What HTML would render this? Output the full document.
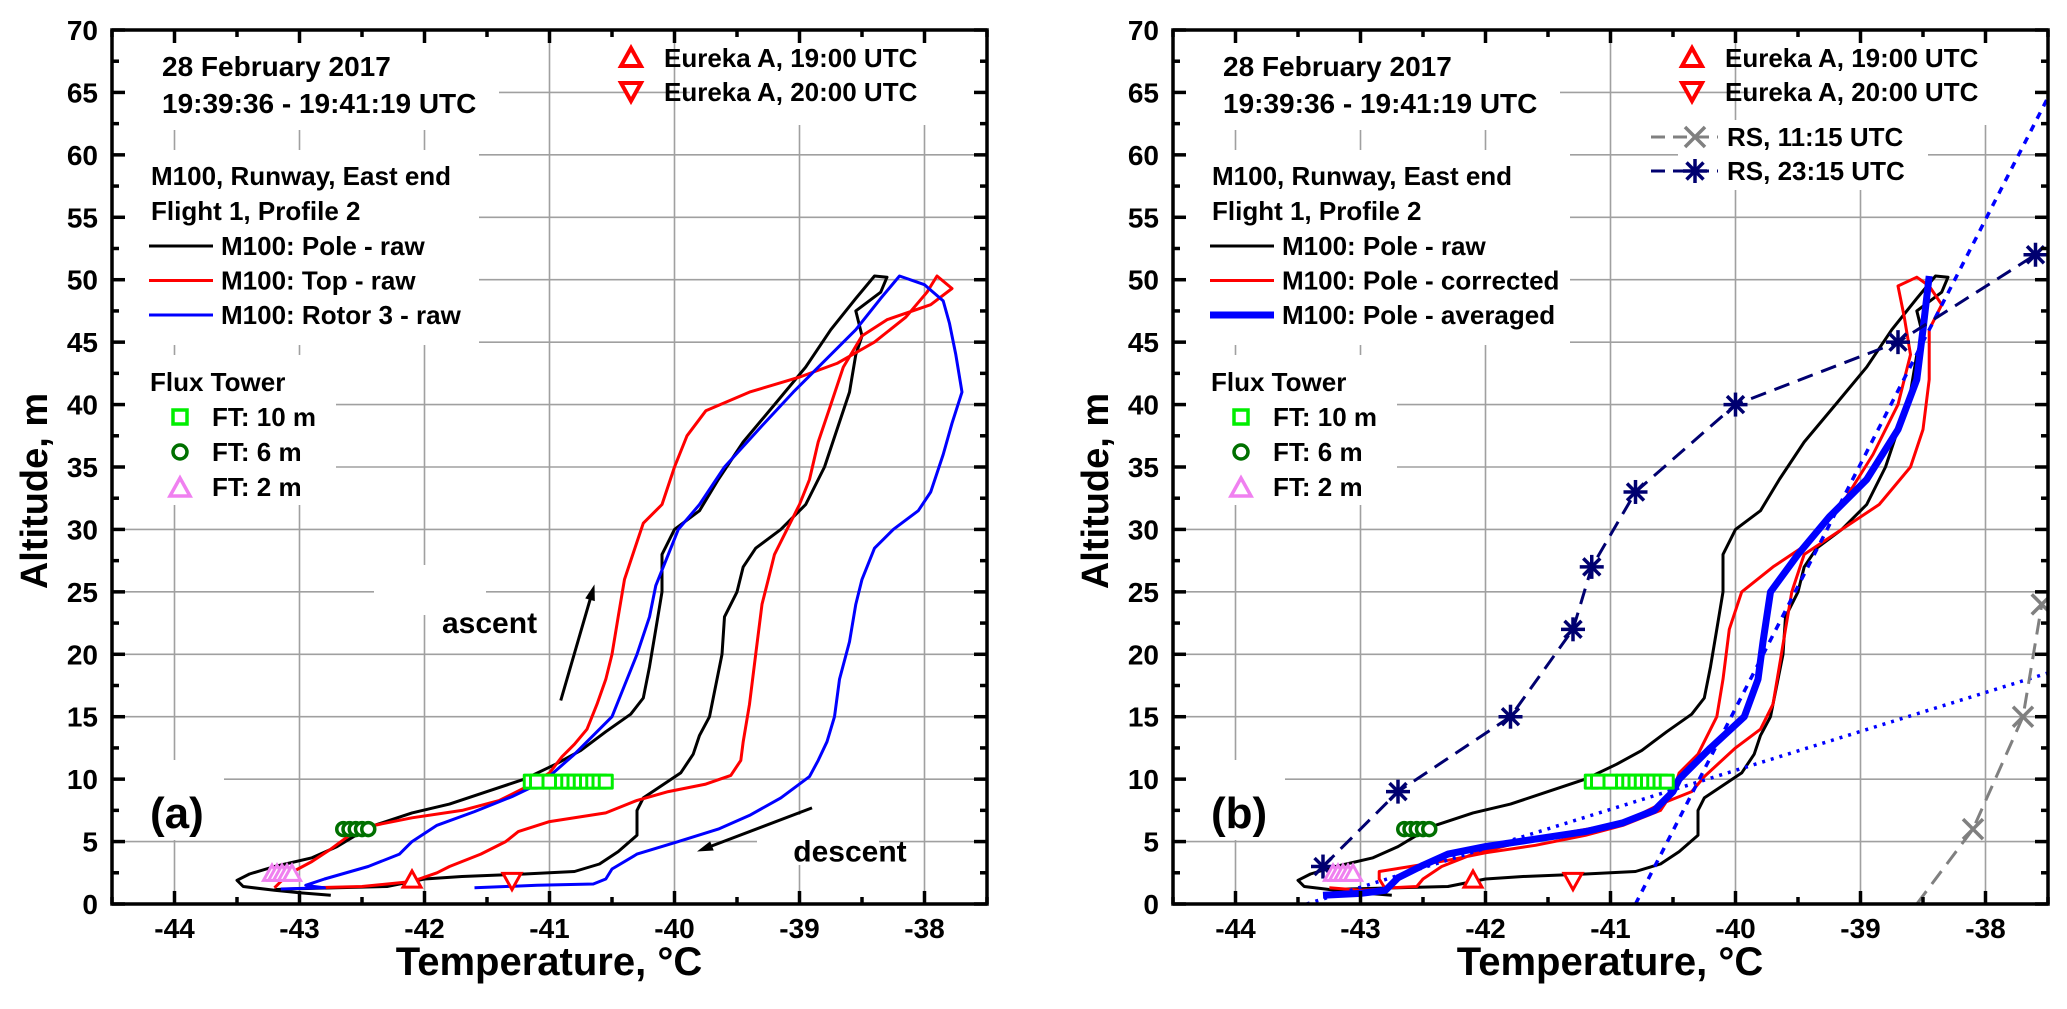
<!DOCTYPE html>
<html><head><meta charset="utf-8"><style>
html,body{margin:0;padding:0;background:#fff;}
svg{display:block;font-family:"Liberation Sans",Arial,sans-serif;font-weight:bold;}
</style></head><body>
<svg id="chart" width="2067" height="1009" viewBox="0 0 2067 1009" xmlns="http://www.w3.org/2000/svg"></svg>
<script>
// ---- data (temperature °C, altitude m) ----
const poleRaw = [[-42.75,0.7],[-43.0,0.9],[-43.2,1.1],[-43.45,1.4],[-43.5,1.9],[-43.4,2.4],[-43.2,3.0],[-42.9,3.7],[-42.7,4.6],[-42.55,5.5],[-42.4,6.3],[-42.1,7.3],[-41.8,8.0],[-41.5,9.0],[-41.2,10.0],[-40.95,11.2],[-40.75,12.3],[-40.55,13.8],[-40.35,15.2],[-40.25,16.5],[-40.2,19],[-40.15,22],[-40.1,25],[-40.1,28],[-40.0,30],[-39.8,31.5],[-39.65,34],[-39.45,37],[-39.2,40],[-38.95,43],[-38.75,46],[-38.55,48.5],[-38.4,50.3],[-38.3,50.2],[-38.35,49],[-38.55,47.5],[-38.5,45.5],[-38.55,44],[-38.6,41],[-38.7,38],[-38.8,35],[-38.95,32],[-39.15,30],[-39.35,28.5],[-39.45,27],[-39.5,25],[-39.6,23],[-39.62,20],[-39.68,17],[-39.72,15],[-39.8,13.5],[-39.85,12],[-39.95,10.5],[-40.1,9.5],[-40.25,8.5],[-40.3,7.5],[-40.3,5.5],[-40.45,4.2],[-40.6,3.2],[-40.8,2.6],[-41.2,2.4],[-41.7,2.2],[-42.0,2.0],[-42.3,1.4],[-42.7,1.3],[-43.1,1.2],[-43.2,1.15]];
const topRaw = [[-43.2,1.3],[-43.15,1.8],[-43.05,2.6],[-42.9,3.4],[-42.75,4.4],[-42.6,5.5],[-42.45,6.2],[-42.1,6.9],[-41.7,7.5],[-41.4,8.3],[-41.2,9.3],[-41.0,10.5],[-40.9,11.8],[-40.8,12.8],[-40.7,14],[-40.62,16],[-40.55,18],[-40.5,20],[-40.45,23],[-40.4,26],[-40.3,29],[-40.25,30.5],[-40.1,32],[-40.0,35],[-39.9,37.5],[-39.75,39.5],[-39.4,41],[-39.0,42.2],[-38.7,43.3],[-38.4,45],[-38.15,47],[-37.98,49],[-37.9,50.3],[-37.78,49.3],[-37.95,48],[-38.3,46.8],[-38.5,45.5],[-38.65,43],[-38.75,40],[-38.85,37],[-38.92,34],[-39.0,32],[-39.1,30],[-39.2,28],[-39.25,26],[-39.3,24],[-39.35,20],[-39.4,16],[-39.45,13],[-39.47,11.5],[-39.55,10.3],[-39.75,9.6],[-40.05,9.0],[-40.3,8.3],[-40.55,7.3],[-41.0,6.6],[-41.25,5.8],[-41.35,5.0],[-41.55,4.0],[-41.8,3.0],[-41.9,2.5],[-42.1,1.8],[-42.5,1.4],[-42.9,1.3]];
const rotorRaw = [[-43.15,1.2],[-42.8,1.3],[-42.95,1.5],[-42.8,2.0],[-42.45,3.0],[-42.2,4.0],[-42.1,5.0],[-41.9,6.3],[-41.6,7.4],[-41.3,8.6],[-41.05,9.8],[-40.8,12],[-40.5,15],[-40.4,17.5],[-40.3,20],[-40.2,23],[-40.15,25.5],[-40.05,28],[-39.97,30],[-39.8,32],[-39.6,35],[-39.3,38.3],[-39.05,41],[-38.8,43.5],[-38.55,46],[-38.35,48.5],[-38.2,50.3],[-38.0,49.6],[-37.85,48.3],[-37.8,46.5],[-37.75,44],[-37.7,41],[-37.78,38.5],[-37.85,36],[-37.95,33],[-38.05,31.5],[-38.25,30],[-38.4,28.5],[-38.5,26],[-38.55,24],[-38.6,21],[-38.68,18],[-38.72,15],[-38.78,13],[-38.85,11.5],[-38.92,10.2],[-39.15,8.5],[-39.4,7.1],[-39.65,6.0],[-39.97,5.0],[-40.3,4.0],[-40.5,2.8],[-40.55,2.0],[-40.65,1.6],[-41.1,1.5],[-41.6,1.3]];
const poleCorr = [[-43.25,1.3],[-43.0,1.1],[-42.8,1.2],[-42.85,2.0],[-42.85,2.6],[-42.6,3.0],[-42.3,3.5],[-42.0,4.1],[-41.6,4.7],[-41.2,5.5],[-40.9,6.3],[-40.6,7.5],[-40.5,9],[-40.45,10.5],[-40.3,12],[-40.15,15],[-40.1,18],[-40.05,22],[-39.95,25],[-39.7,27],[-39.4,29],[-39.15,32],[-38.9,36],[-38.7,40],[-38.6,44],[-38.65,47],[-38.7,49.5],[-38.55,50.2],[-38.45,49.5],[-38.35,48],[-38.45,46],[-38.45,42],[-38.5,38],[-38.6,35],[-38.85,32],[-39.15,30],[-39.45,28],[-39.55,25],[-39.6,22],[-39.65,19],[-39.7,16],[-39.8,14],[-40.0,12.5],[-40.25,10.2],[-40.35,9],[-40.6,8],[-40.9,6.5],[-41.3,5.8],[-41.7,5.0],[-42.1,4.0],[-42.35,3.0],[-42.5,2.0],[-42.55,1.4],[-42.75,1.3]];
const poleAvg = [[-43.3,0.7],[-43.0,0.85],[-42.8,1.1],[-42.7,2.1],[-42.5,3.1],[-42.3,4.0],[-42.0,4.6],[-41.6,5.2],[-41.2,5.8],[-40.9,6.5],[-40.65,7.5],[-40.5,9],[-40.45,10],[-40.2,12.5],[-39.93,15],[-39.82,18],[-39.78,21],[-39.72,25],[-39.5,28],[-39.25,31],[-38.95,34],[-38.7,38],[-38.55,42],[-38.5,46],[-38.45,50.3]];
const fitSteep = [[-40.8,0],[-37.5,64.6]];
const fitShallow = [[-43.43,0],[-37.5,18.5]];
const rs2315T = [-43.3,-42.7,-41.8,-41.3,-41.15,-40.8,-40.0,-38.7,-37.6];
const rs2315H = [3,9,15,22,27,33,40,45,52];
const rs1115T = [-38.55,-38.1,-37.7,-37.55];
const rs1115H = [0,6,15,24];
const ft10T = [-41.15,-41.1,-41.0,-40.9,-40.85,-40.8,-40.75,-40.7,-40.65,-40.6,-40.55];
const ft6T = [-42.65,-42.6,-42.55,-42.5,-42.45];
const ft2T = [-43.22,-43.18,-43.14,-43.1,-43.06];
const ftHeights = [9.8,6,2.5];
const eurekaT = [-42.1,-41.3];
const eurekaH = [2,1.8];
const xTicks = [-44,-43,-42,-41,-40,-39,-38];
const yTicks = [0,5,10,15,20,25,30,35,40,45,50,55,60,65,70];

const NS = "http://www.w3.org/2000/svg";
const svg = document.getElementById('chart');
function mk(tag, attrs, parent){
  const e = document.createElementNS(NS, tag);
  for (const k in attrs) e.setAttribute(k, attrs[k]);
  (parent||svg).appendChild(e);
  return e;
}
const Y0 = 904, Y70 = 30;
function makeScales(left){
  const xs = t => left + (t + 44.5) * 125;
  const ys = h => Y0 - h * (Y0 - Y70) / 70;
  return {xs, ys};
}
function ptsStr(arr, s){ return arr.map(p => s.xs(p[0]).toFixed(1) + ',' + s.ys(p[1]).toFixed(1)).join(' '); }

function triangle(g, x, y, size, down, color, fill, sw){
  const h = size*0.9, w = size/2;
  const p = down ? [[x-w,y-h/2],[x+w,y-h/2],[x,y+h/2]] : [[x-w,y+h/2],[x+w,y+h/2],[x,y-h/2]];
  return mk('polygon',{points:p.map(q=>q.join(',')).join(' '),fill:fill,stroke:color,'stroke-width':sw,'stroke-linejoin':'miter'},g);
}
function asterisk(g, x, y, r, color){
  const gg = mk('g',{stroke:color,'stroke-width':3.5},g);
  for (let a=0;a<4;a++){ const ang=a*Math.PI/4+Math.PI/2; mk('line',{x1:x-r*Math.cos(ang),y1:y-r*Math.sin(ang),x2:x+r*Math.cos(ang),y2:y+r*Math.sin(ang)},gg);}
  return gg;
}
function cross(g, x, y, r, color){
  const gg = mk('g',{stroke:color,'stroke-width':3.5},g);
  mk('line',{x1:x-r,y1:y-r,x2:x+r,y2:y+r},gg); mk('line',{x1:x-r,y1:y+r,x2:x+r,y2:y-r},gg);
  return gg;
}
function whiteText(g, x, y, txt, size, name, anchor){
  const t = mk('text',{x:x,y:y,'font-size':size,fill:'#000','text-anchor':anchor||'start'},g);
  t.textContent = txt;
  
  
  return t;
}

function drawPanel(left, id, which){
  const s = makeScales(left);
  const right = left + 875;
  const g = mk('g',{});
  
  
  const grid = mk('g',{stroke:'#a0a0a0','stroke-width':1.6},g);
  
  
  xTicks.forEach(t => mk('line',{x1:s.xs(t),y1:Y70,x2:s.xs(t),y2:Y0},grid));
  yTicks.forEach(h => { if(h>0 && h<70) mk('line',{x1:left,y1:s.ys(h),x2:right,y2:s.ys(h)},grid); });
  const wb = mk('g',{fill:'#fff'},g);
  mk('rect',{x:left+2,y:40,width:385,height:90},wb);
  mk('rect',{x:left+2,y:150,width:which==='a'?365:395,height:195},wb);
  mk('rect',{x:left+2,y:355,width:222,height:150},wb);
  mk('rect',{x:left+2,y:760,width:110,height:80},wb);
  mk('rect',{x:left+578,y:40,width:295,height:85},wb);
  if (which==='b') mk('rect',{x:left+505,y:120,width:250,height:70},wb);
  if (which==='a'){ mk('rect',{x:left+262,y:565,width:112,height:50},wb); mk('rect',{x:left+645,y:815,width:122,height:50},wb); }
  const cid = 'clip-' + id;
  const cp = mk('clipPath',{id:cid},g); mk('rect',{x:left,y:Y70,width:875,height:Y0-Y70},cp);
  const data = mk('g',{'clip-path':'url(#'+cid+')',fill:'none','stroke-linejoin':'round'},g);

  function line(arr, color, w, name, dash){
    const pl = mk('polyline',{points:ptsStr(arr,s),stroke:color,'stroke-width':w,fill:'none'},data);
    if (dash) pl.setAttribute('stroke-dasharray', dash);
    
    
    return pl;
  }
  if (which==='a'){
    line(poleRaw,'#000',3,'series-pole-raw');
    line(topRaw,'#ff0000',3,'series-top-raw');
    line(rotorRaw,'#0000ff',3,'series-rotor3-raw');
  } else {
    line(poleRaw,'#000',3,'series-pole-raw');
    line(poleCorr,'#ff0000',3,'series-pole-corrected');
    line(poleAvg,'#0000ff',7,'series-pole-averaged');
    line(fitSteep,'#0000ff',3.5,'fit-line-steep','7,7');
    line(fitShallow,'#0000ff',3.5,'fit-line-shallow','3,6');
    line(rs1115T.map((t,i)=>[t,rs1115H[i]]),'#808080',3,'series-rs-1115','16,9');
    line(rs2315T.map((t,i)=>[t,rs2315H[i]]),'#000070',3,'series-rs-2315','16,9');
    rs1115T.forEach((t,i)=>{ if(rs1115H[i]>0){ const c=cross(data,s.xs(t),s.ys(rs1115H[i]),10,'#808080');
        }});
    rs2315T.forEach((t,i)=>{ const a=asterisk(data,s.xs(t),s.ys(rs2315H[i]),12,'#000070');
        });
  }
  ft10T.forEach(t=>{ const r=mk('rect',{x:s.xs(t)-6.5,y:s.ys(ftHeights[0])-6.5,width:13,height:13,fill:'#fff',stroke:'#00ee00','stroke-width':3},data);
      });
  ft6T.forEach(t=>{ const c=mk('circle',{cx:s.xs(t),cy:s.ys(ftHeights[1]),r:6.5,fill:'#fff',stroke:'#007000','stroke-width':3.5},data);
      });
  ft2T.forEach(t=>{ const p=triangle(data,s.xs(t),s.ys(ftHeights[2]),17,false,'#f080f0','#fff',3);
      });
  eurekaT.forEach((t,i)=>{ const p=triangle(data,s.xs(t),s.ys(eurekaH[i]),18,i===1,'#ff0000','#fff',3);
      });

  const ax = mk('g',{stroke:'#000','stroke-width':3.5,fill:'none'},g);
  
  
  mk('rect',{x:left,y:Y70,width:875,height:Y0-Y70},ax);
  for (let t=-44.5;t<=-37.49;t+=0.5){
    const major = Math.abs(t-Math.round(t))<1e-6; const L = major?13:7; const x=s.xs(t);
    mk('line',{x1:x,y1:Y0,x2:x,y2:Y0-L},ax); mk('line',{x1:x,y1:Y70,x2:x,y2:Y70+L},ax);
  }
  for (let h=0;h<=70;h+=2.5){
    const major = h%5===0; const L = major?13:7; const y=s.ys(h);
    mk('line',{x1:left,y1:y,x2:left+L,y2:y},ax); mk('line',{x1:right,y1:y,x2:right-L,y2:y},ax);
  }
  xTicks.forEach(t=>{ whiteText(g,s.xs(t),938,String(t),28,'x-tick-label','middle'); });
  yTicks.forEach(h=>{ whiteText(g,left-14,s.ys(h)+10,String(h),28,'y-tick-label','end'); });
  whiteText(g,left+437,975,'Temperature, °C',40,'x-axis-title','middle');
  const yt = whiteText(g,0,0,'Altitude, m',38,'y-axis-title','middle');
  yt.setAttribute('transform','translate(' + (left-65) + ',491) rotate(-90)');
  whiteText(g,left+38,828,which==='a'?'(a)':'(b)',44,'panel-label');

  whiteText(g,left+50,76,'28 February 2017',28,'date-label');
  whiteText(g,left+50,113,'19:39:36 - 19:41:19 UTC',28,'time-range-label');
  whiteText(g,left+39,185,'M100, Runway, East end',26,'site-label');
  whiteText(g,left+39,220,'Flight 1, Profile 2',26,'flight-label');
  const names = which==='a' ? ['M100: Pole - raw','M100: Top - raw','M100: Rotor 3 - raw'] : ['M100: Pole - raw','M100: Pole - corrected','M100: Pole - averaged'];
  const cols = ['#000','#ff0000','#0000ff'];
  names.forEach((n,i)=>{
    const y = 246 + i*34.5;
    const l = mk('line',{x1:left+37,y1:y,x2:left+101,y2:y,stroke:cols[i],'stroke-width':(which==='b'&&i===2)?7:3},g);
     
    whiteText(g,left+109,y+9,n,26,'legend-entry');
  });
  whiteText(g,left+38,391,'Flux Tower',26,'flux-tower-label');
  const fl = ['FT: 10 m','FT: 6 m','FT: 2 m'];
  fl.forEach((n,i)=>{
    const y = 417 + i*35, x = left+68;
    let m;
    if (i===0) m = mk('rect',{x:x-7,y:y-7,width:14,height:14,fill:'#fff',stroke:'#00ee00','stroke-width':3.5},g);
    else if (i===1) m = mk('circle',{cx:x,cy:y,r:7,fill:'#fff',stroke:'#007000','stroke-width':3.5},g);
    else m = triangle(g,x,y,20,false,'#f080f0','#fff',3.5);
     
    whiteText(g,left+100,y+9,n,26,'legend-entry');
  });
  const e1 = triangle(g,left+519,57,20,false,'#ff0000','#fff',4);
   
  whiteText(g,left+552,67,'Eureka A, 19:00 UTC',26,'legend-entry');
  const e2 = triangle(g,left+519,92,20,true,'#ff0000','#fff',4);
   
  whiteText(g,left+552,101,'Eureka A, 20:00 UTC',26,'legend-entry');
  if (which==='b'){
    const l1 = mk('line',{x1:left+478,y1:137,x2:left+545,y2:137,stroke:'#808080','stroke-width':3,'stroke-dasharray':'14,8'},g);
     
    cross(g,left+522,137,10,'#808080');
    whiteText(g,left+554,146,'RS, 11:15 UTC',26,'legend-entry');
    const l2 = mk('line',{x1:left+478,y1:171,x2:left+545,y2:171,stroke:'#000070','stroke-width':3,'stroke-dasharray':'14,8'},g);
     
    asterisk(g,left+522,171,12,'#000070');
    whiteText(g,left+554,180,'RS, 23:15 UTC',26,'legend-entry');
  } else {
    const arrow = (t1,h1,t2,h2,name)=>{
      const x1=s.xs(t1),y1=s.ys(h1),x2=s.xs(t2),y2=s.ys(h2);
      const a=Math.atan2(y2-y1,x2-x1), L=16, W=5;
      const ag = mk('g',{},g);
       
      mk('line',{x1:x1,y1:y1,x2:x2-L*0.8*Math.cos(a),y2:y2-L*0.8*Math.sin(a),stroke:'#000','stroke-width':3},ag);
      mk('polygon',{points:[[x2,y2],[x2-L*Math.cos(a)+W*Math.sin(a),y2-L*Math.sin(a)-W*Math.cos(a)],[x2-L*Math.cos(a)-W*Math.sin(a),y2-L*Math.sin(a)+W*Math.cos(a)]].map(q=>q.join(',')).join(' '),fill:'#000'},ag);
    };
    arrow(-40.91,16.3,-40.64,25.6,'ascent-arrow');
    arrow(-38.9,7.7,-39.82,4.2,'descent-arrow');
    whiteText(g,s.xs(-41.86),s.ys(21.7),'ascent',30,'ascent-label');
    whiteText(g,s.xs(-39.05),s.ys(3.4),'descent',30,'descent-label');
  }
}
drawPanel(112,'a','a');
drawPanel(1173,'b','b');
</script>
</body></html>
